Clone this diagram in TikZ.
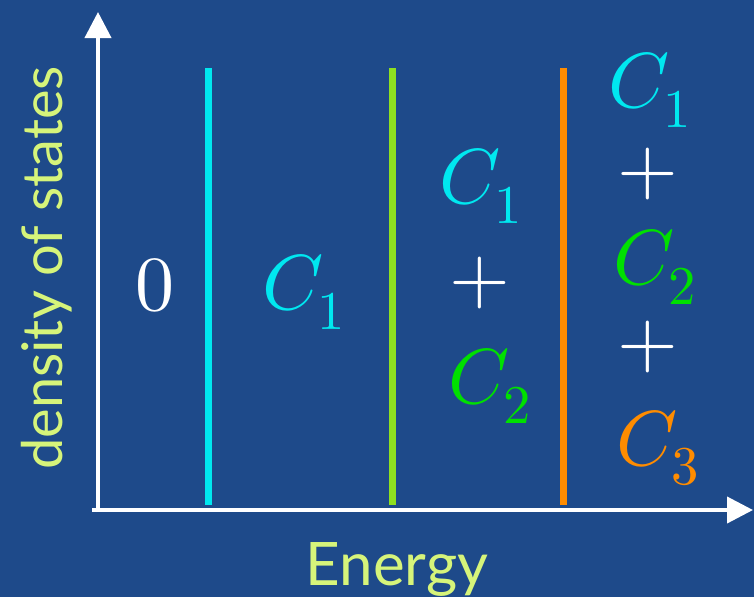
\documentclass[tikz,border=0pt]{standalone}
\usepackage{unicode-math}
\setmathfont{Latin Modern Math}
\newfontfamily\labfont{Lato}
\usetikzlibrary{arrows.meta}
\definecolor{bg}{HTML}{1E4A8A}
\definecolor{cyanc}{HTML}{00E8F0}
\definecolor{greenc}{HTML}{00E000}
\definecolor{limec}{HTML}{8EE020}
\definecolor{orangec}{HTML}{FF8C00}
\definecolor{labc}{HTML}{D6F47A}
\tikzset{
  axis/.style={white, line width=4pt, -{Triangle[length=26pt,width=26pt]}},
  level/.style={line width=7pt},
  big/.style={inner sep=0pt, font=\fontsize{78}{80}\selectfont},
  lab/.style={inner sep=0pt, text=labc, anchor=base}
}
\begin{document}
\begin{tikzpicture}[x=1pt,y=-1pt]
\fill[bg] (0,0) rectangle (754,597);
\useasboundingbox (0,0) rectangle (754,597);
\coordinate (o1) at (98,512);
\coordinate (ytip) at (98,12);
\coordinate (o2) at (92,510);
\coordinate (xtip) at (753,510);
\draw[axis] (o1) -- (ytip);
\draw[axis] (o2) -- (xtip);
\coordinate (a1) at (208,68); \coordinate (a2) at (208,505);
\coordinate (b1) at (392,68); \coordinate (b2) at (392,505);
\coordinate (c1) at (563,68); \coordinate (c2) at (563,505);
\draw[level, cyanc] (a1) -- (a2);
\draw[level, limec] (b1) -- (b2);
\draw[level, orangec] (c1) -- (c2);
\node[big, text=white] (z) at (155,285) {$0$};
\node[big, text=cyanc] (r1) at (304,292) {$C_1$};
\node[big, text=cyanc] (m1) at (481,186) {$C_1$};
\node[big, text=white] (mp) at (480,283) {$+$};
\node[big, text=greenc] (m2) at (490,386) {$C_2$};
\node[big, text=cyanc] (q1) at (650,90) {$C_1$};
\node[big, text=white] (qp1) at (648,174) {$+$};
\node[big, text=greenc] (q2) at (655,267) {$C_2$};
\node[big, text=white] (qp2) at (648,347) {$+$};
\node[big, text=orangec] (q3) at (658,448) {$C_3$};
\node[lab, rotate=90, font=\labfont\fontsize{56}{60}\selectfont] (dos) at (62,268) {density of states};
\node[lab, font=\labfont\fontsize{60}{64}\selectfont] (en) at (397,585) {Energy};
\end{tikzpicture}
\end{document}
